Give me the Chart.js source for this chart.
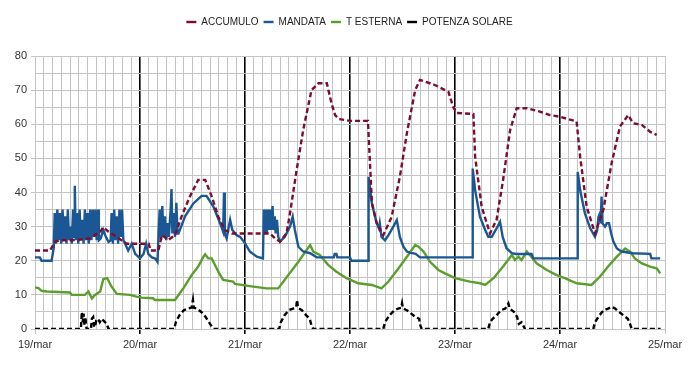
<!DOCTYPE html>
<html>
<head>
<meta charset="utf-8">
<script src="https://cdn.jsdelivr.net/npm/chart.js@4.4.1/dist/chart.umd.min.js"></script>
<style>
  body { margin: 0; background: #fff; }
  #chart-container { width: 700px; height: 365px; }
</style>
</head>
<body>
<div id="chart-container"><canvas id="chart" width="700" height="365"></canvas></div>
<script>
// hours from 19/mar 00:00, value
const dayLabels = ["19/mar", "20/mar", "21/mar", "22/mar", "23/mar", "24/mar", "25/mar"];
const seriesNames = ["ACCUMULO", "MANDATA", "T ESTERNA", "POTENZA SOLARE"];

const accumulo = [[0,23],[3.4,23],[4.6,25.6],[5.7,26],[8,26],[10.3,26.2],[12.6,26.6],[14.9,28.5],[15.6,29.8],[16.8,28.5],[18.7,27],[20.2,25.6],[21,25],[26,25],[26.4,23],[28.2,23],[29,27.5],[30.5,26.1],[32,27.5],[33.5,33],[35.4,38.8],[37.3,43.7],[38.9,43.7],[40.4,38.8],[41.9,32.9],[43.4,29],[45,28],[53.7,28],[54.9,26.5],[56,25.6],[57.5,28.1],[58.3,34],[59.8,46.6],[61.3,58.3],[63.2,70],[64.8,72],[66.7,72],[67.8,66],[68.6,62.7],[69.5,61.5],[72,61],[76.1,61],[77,37],[78.1,31],[79.6,27.5],[81.5,32.8],[83.4,44.6],[85,57.4],[86.9,70],[88,73],[91.4,71.5],[94.5,69.5],[95.6,65],[96.4,63.3],[100.2,63],[100.6,50.5],[102.1,35.8],[104,28],[105.5,32],[107,43.7],[108.6,58.3],[110.1,64.7],[112.4,64.7],[115.4,63.7],[117.7,62.7],[120,62.2],[123.8,60.8],[124.6,50.5],[126.1,35.8],[128,28],[129.9,34.9],[131.8,48.6],[133.7,59.3],[135.6,62.7],[136.7,60.3],[138.7,59.8],[140.6,57.8],[142.1,56.9]];

const mandata = [[0,21],[1.1,21],[1.5,20],[3.8,20],[4.3,24],
  [4.5,34],[4.8,25],[5.1,35],[5.4,26],[5.7,34],[6.0,25],[6.3,35],[6.6,26],[6.9,33],[7.2,25],[7.5,35],[7.8,26],[8.1,30],[8.4,25],[8.7,35],[8.95,27],[9.1,42],[9.3,26],[9.6,34],[9.9,25],[10.2,35],[10.5,26],[10.8,32],[11.1,25],[11.4,35],[11.7,26],[12.0,34],[12.3,25],[12.6,35],[12.9,26],[13.2,35],[13.5,27],[13.8,35],[14.1,26],[14.4,35],[14.6,26],
  [15.0,26.5],[15.6,29],[16.2,27],[16.8,25.5],[17.3,26],
  [17.5,34],[17.8,25],[18.1,35],[18.4,26],[18.7,33],[19.0,25],[19.3,35],[19.6,27],[19.9,35],[20.2,26],
  [20.6,25],[21.3,23],[22.1,25],[22.9,22],[24,20.7],[24.8,22],[25.4,25],[25.9,22],[26.7,21],[27.4,20.7],[28,19.7],
  [28.3,30],[28.5,35],[28.8,26],[29.1,36],[29.4,27],[29.7,33],[30,26],[30.3,31],[30.6,27],[31.0,35],[31.2,41],[31.4,28],[31.7,34],[32.0,27],[32.3,37],[32.6,28],[32.8,28],
  [34.3,33],[36.2,36.8],[38.1,39],[39.2,39],[40.8,35.8],[42.3,31],[43,28.5],[43.2,40],[43.4,28],[43.8,26.6],[44.6,32],[45.1,29],[46.1,27.5],[46.9,27],[48,25.1],[49.1,22.7],[50.7,21.2],[52.1,20.7],
  [52.3,35],[52.5,28],[52.8,35],[53.0,28],[53.3,35],[53.5,29],[53.8,35],[54.0,29],[54.3,36],[54.5,29],[54.8,33],[55.0,28],[55.3,32],[55.6,27],[56,25.6],
  [57.1,27],[58.3,30],[58.9,32.9],[59.4,29],[60.2,24.1],[61.3,22.7],[62.9,22.2],[64.4,21],[68.3,21],[68.5,22],[68.9,22],[69.1,21],[72,21],[72.3,20],[76.2,20],
  [76.25,44.6],[77,36.8],[78.1,31],[78.6,29.5],[78.8,31],[79.2,27],[80,26],[80.8,27.5],[81.9,30],[82.7,31.9],[83.4,27],[84.2,24.1],[85,22.7],[85.7,22.4],[87,22],[88,21],[100,21],
  [100.05,47],[100.6,40.7],[101.7,32.9],[102.9,29],[103.6,27],[104.4,27],[105.5,29.5],[106.3,31.4],[106.9,27],[107.8,23.6],[109,22.2],[110,22],[113.5,22],[113.9,20.7],[124,20.7],
  [124.05,46],[124.6,40.7],[125.7,33.9],[126.9,29.5],[128,27],[128.5,29],[128.8,32.9],[129,33.5],[129.3,31],[129.5,38.8],[129.7,31],[130.3,30],[130.7,31],[131.2,31],[131.7,28],[132.2,25.6],[133,23.6],[134.1,22.7],[136.7,22.2],[140.6,22],[140.9,20.7],[142.9,20.7]];

const tEsterna = [[0,12.2],[0.8,12],[1.5,11.2],[2.7,11],[8,10.7],[8.4,10],[11.4,10],[12.2,11],[13,9],[13.7,10],[14.9,11],[15.6,14.6],[16.5,14.9],[17.5,12.4],[18.7,10.3],[21.7,10],[23.2,9.5],[24.4,9.2],[27,9],[27.4,8.5],[32,8.5],[33.9,11.9],[35.8,15.8],[37.3,18.3],[38.5,21.2],[38.9,21.9],[39.6,20.7],[40.4,20.7],[41.9,16.8],[43,14.4],[45.3,13.9],[45.7,13.2],[49.9,12.4],[52.9,11.9],[55.6,11.9],[57.9,15.8],[60.2,19.7],[62.1,23.2],[62.9,24.6],[63.6,22.7],[65.1,21.7],[67,18.8],[68.9,16.8],[71.2,14.9],[73.9,13.4],[77,12.9],[78.1,12.4],[79.2,11.9],[80.8,13.9],[83.1,17.8],[85.3,21.7],[86.9,24.6],[87.6,24.2],[88.8,22.7],[90.3,19.7],[92.2,17.3],[93.7,16.3],[96,14.9],[99.4,13.9],[101.7,13.4],[102.9,12.9],[104.8,14.9],[107,18.3],[109,21.7],[109.7,20.2],[110.5,21.2],[111.2,20.2],[112.4,22.7],[113.1,21.7],[114.7,19.2],[117,17.3],[119.2,15.8],[121.1,14.9],[123.8,13.4],[127.2,12.9],[129.1,15.3],[131,18.3],[133,21.2],[134.9,23.6],[136,22.7],[137.1,20.7],[138.7,19.2],[140.6,18.3],[142.1,17.8],[142.9,16.3]];

const potenzaSolare = [[0,0],[10.5,0],[10.7,5],[10.9,2],[11.1,4.5],[11.3,1],[11.5,3.5],[11.8,0],[12.8,0],[13,3],[13.3,3.5],[13.5,1],[13.7,0.5],[14,2.5],[14.4,3],[14.8,2],[15.2,3],[15.6,2.5],[16,2],[16.4,1.5],[16.8,0],
  [31.8,0],[32.2,2],[33,4],[34,5.5],[35,6],[35.8,6.3],[36.1,8.5],[36.3,6.2],[37,6],[38,5],[39,3.5],[40,1.5],[40.8,0],
  [55.8,0],[56.2,2],[57,4],[58,5.5],[59,6],[59.7,6.3],[59.9,8.5],[60.1,6.2],[61,5.5],[62,4],[62.8,3],[63.2,1],[63.6,0],
  [79.6,0],[80,2],[81,4],[82,5.3],[83,6],[83.7,6.2],[83.9,7.5],[84.1,6],[85,5.5],[86,4.5],[87,3.5],[87.8,3],[88.1,1],[88.4,0],
  [103.6,0],[104,2],[104.6,3],[105.5,4],[106.5,5.5],[107.5,6],[108.2,7.5],[108.5,6],[109.5,5],[110.2,3.5],[110.6,1.5],[111.2,2],[111.6,1],[112,0],
  [127.6,0],[128,2],[129,4],[130,5.5],[131,6],[131.8,6.5],[132.6,6],[133.5,5],[134.5,4],[135.5,3],[136,1.5],[136.4,0],[143,0]];

Chart.defaults.font.family = "'Liberation Sans', Arial, sans-serif";
Chart.defaults.font.size = 11;
Chart.defaults.color = "#333";

const toXY = arr => arr.map(p => ({ x: p[0], y: p[1] }));

function line(label, data, color, dash) {
  return {
    label: label,
    data: toXY(data),
    borderColor: color,
    backgroundColor: color,
    borderWidth: 2.4,
    borderDash: dash,
    pointRadius: 0,
    tension: 0,
    fill: false
  };
}

const isDay = c => c.tick && c.tick.value % 24 === 0 && c.tick.value > 0 && c.tick.value < 144;

// legend box fixed so the plot starts at the same height as the reference,
// and nudged right so it is centred on the page rather than the padded area
const legendHeight = {
  id: "legendHeight",
  beforeInit(chart) {
    const fit = chart.legend.fit;
    chart.legend.fit = function() {
      fit.bind(chart.legend)();
      this.height = 44;
    };
  },
  afterLayout(chart) {
    chart.legend.left += 17;
    chart.legend.right += 17;
  }
};

new Chart(document.getElementById("chart"), {
  type: "line",
  data: {
    datasets: [
      line(seriesNames[0], accumulo, "#7d0c2e", [5, 3]),
      line(seriesNames[1], mandata, "#1c5795", []),
      line(seriesNames[2], tEsterna, "#5c9e2e", []),
      line(seriesNames[3], potenzaSolare, "#000", [5, 3])
    ]
  },
  options: {
    responsive: false,
    animation: false,
    layout: { padding: { top: 12, right: 35, left: 0, bottom: 0 } },
    plugins: {
      legend: {
        position: "top",
        labels: {
          usePointStyle: true,
          pointStyle: "line",
          pointStyleWidth: 10,
          boxHeight: 10,
          padding: 5,
          color: "#222",
          font: { size: 10 }
        }
      },
      tooltip: { enabled: false }
    },
    scales: {
      x: {
        type: "linear",
        min: 0,
        max: 144,
        afterFit: s => { s.height = 36; },
        ticks: {
          stepSize: 2,
          autoSkip: false,
          maxRotation: 0,
          padding: 4,
          callback: v => (v % 24 === 0 ? dayLabels[v / 24] : "")
        },
        grid: {
          tickLength: 5,
          color: c => (isDay(c) ? "#000" : "#c4c4c4"),
          tickColor: c => (c.tick && c.tick.value % 24 === 0 ? (isDay(c) ? "#000" : "#c4c4c4") : "rgba(0,0,0,0)"),
          lineWidth: c => (isDay(c) ? 1.6 : 1)
        },
        border: { color: "#c4c4c4" }
      },
      y: {
        min: 0,
        max: 80,
        afterFit: s => { s.width = 35; },
        ticks: {
          stepSize: 5,
          padding: 4,
          callback: v => (v % 10 === 0 ? v : "")
        },
        grid: {
          tickLength: 4,
          color: "#c4c4c4",
          tickColor: c => (c.tick && c.tick.value % 10 === 0 ? "#c4c4c4" : "rgba(0,0,0,0)")
        },
        border: { color: "#c4c4c4" }
      }
    }
  },
  plugins: [legendHeight]
});
</script>
</body>
</html>
